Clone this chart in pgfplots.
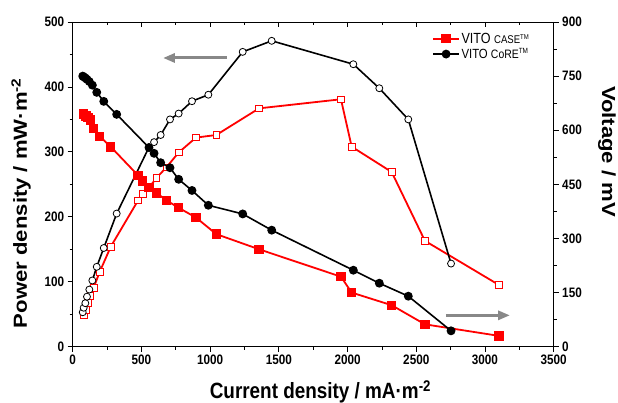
\documentclass[border=0pt]{standalone}
\usepackage{fontspec}
\setmainfont{Liberation Sans}
\newfontfamily\hfont[FakeStretch=0.855]{Liberation Sans}
\newfontfamily\vfont[FakeStretch=1.17]{Liberation Sans}
\usepackage{pgfplots}
\usepackage{pgfplotstable}
\pgfplotsset{compat=1.18}
\usetikzlibrary{arrows.meta}

\pgfplotstableread{
x y
80 48
97 57
111 67
128 78
153 91
196 115
277 154
475 225
510 235
555 245
610 260
681 276
771 299
897 322
1045 326
1356 367
1952 381
2030 308
2321 269
2563 163
3102 95
}\casepower

\pgfplotstableread{
x y
80 645
97 640
111 635
128 628
153 605
196 583
277 554
475 475
510 459
555 441
610 426
681 406
771 385
897 358
1045 312
1356 270
1952 194
2030 150
2321 115
2563 62
3102 30
}\casevolt

\pgfplotstableread{
x y
73 53
80 60
92 67
104 77
121 88
143 102
175 123
226 152
320 205
555 307
592 315
640 326
708 350
771 359
868 378
987 388
1237 454
1448 471
2042 435
2231 398
2442 350
2753 128
}\corepower

\pgfplotstableread{
x y
73 750
80 748
92 745
104 741
121 735
143 725
175 705
226 680
320 644
555 552
592 536
640 510
708 496
771 464
868 433
987 392
1237 368
1448 323
2042 212
2231 176
2442 140
2753 44
}\corevolt

\definecolor{arrowgray}{HTML}{888888}

\pgfplotsset{
  common/.style={
    at={(0pt,0pt)}, anchor=south west,
    scale only axis, width=481pt, height=324.7pt,
    xmin=0, xmax=3500,
    tick style={black, line width=0.8pt},
    major tick length=5pt, minor tick length=3pt,
    axis line style={line width=0.9pt},
    /pgf/number format/assume math mode=true,
    /pgf/number format/1000 sep={},
    tick label style={font=\hfont\bfseries\fontsize{13.7}{14}\selectfont},
    ylabel style={font=\vfont\bfseries\fontsize{18.9}{20}\selectfont},
    xlabel style={font=\hfont\bfseries\fontsize{22.1}{24}\selectfont},
  },
  openmark/.style={mark options={fill=white, line width=0.8pt, solid}},
}

\begin{document}
\begin{tikzpicture}
\begin{axis}[common,
  ymin=0, ymax=500,
  xtick={0,500,...,3500}, minor x tick num=1,
  ytick={0,100,...,500}, minor y tick num=1,
  xtick pos=bottom, ytick pos=left,
  tick align=outside,
  xlabel={Current density / mA·m\textsuperscript{-2}},
  ylabel={Power density / mW·m\textsuperscript{-2}},
  xlabel style={at={(axis description cs:0.515,0)}, anchor=base, yshift=-52pt},
  ylabel style={at={(axis description cs:-0.1075,0.4426)}, anchor=center},
  legend style={at={(axis description cs:0.747,0.972)}, anchor=north west,
    draw=none, fill=none, inner sep=0pt, row sep=1pt,
    nodes={inner sep=1.5pt}, font=\hfont},
  legend cell align=left,
  legend image code/.code={\draw[mark repeat=2, mark phase=2] plot coordinates {(0pt,0pt) (13pt,0pt) (26pt,0pt)};},
]
\addlegendimage{red, line width=1.8pt, mark=square*, mark size=3.8pt}
\addlegendentry{\fontsize{14.7}{16}\selectfont VITO \fontsize{11.2}{12}\selectfont CASE\textsuperscript{\fontsize{7}{8}\selectfont TM}}
\addlegendimage{black, line width=1.6pt, mark=*, mark size=3.6pt}
\addlegendentry{\fontsize{13.3}{15}\selectfont VITO \fontsize{12.2}{13}\selectfont CoRE\textsuperscript{\fontsize{7.5}{8}\selectfont TM}}

\addplot[forget plot, red, line width=1.8pt, mark=square*, mark size=3.3pt, openmark] table {\casepower};
\addplot[forget plot, black, line width=1.6pt, mark=*, mark size=3.5pt, openmark] table {\corepower};

\draw[arrowgray, line width=3pt, -{Triangle[length=12pt, width=9pt]}] (axis cs:1121,444.6) -- (axis cs:657,444.6);
\draw[arrowgray, line width=3pt, -{Triangle[length=12pt, width=9pt]}] (axis cs:2716,48.3) -- (axis cs:3182,48.3);
\end{axis}

\begin{axis}[common,
  ymin=0, ymax=900,
  axis x line=none, axis y line*=right,
  ytick={0,150,...,900}, minor y tick num=1,
  tick align=outside,
  ylabel={Voltage / mV},
  ylabel style={at={(axis description cs:1.111,0.601)}, anchor=center, rotate=180},
]
\addplot[red, line width=1.8pt, mark=square*, mark size=3.8pt] table {\casevolt};
\addplot[black, line width=1.6pt, mark=*, mark size=3.6pt] table {\corevolt};
\end{axis}

\begin{axis}[common,
  ymin=0, ymax=1,
  axis y line=none, axis x line*=top,
  xtick={0,500,...,3500}, minor x tick num=1,
  xticklabels={}, tick align=inside,
]
\end{axis}

\pgfresetboundingbox
\path[use as bounding box] (-72.7pt,-56.3pt) rectangle (545.3pt,346.7pt);
\end{tikzpicture}
\end{document}
